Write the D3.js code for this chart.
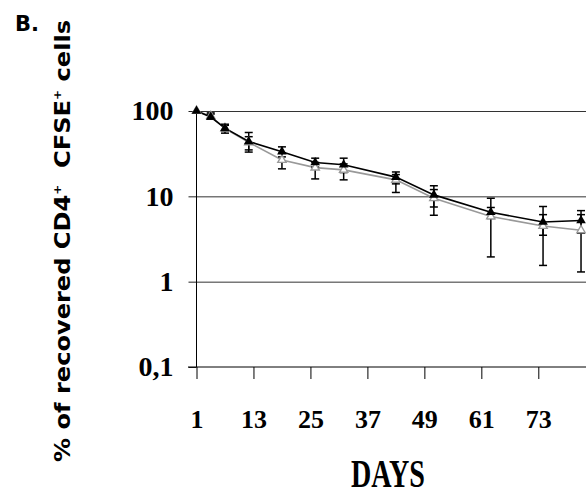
<!DOCTYPE html>
<html>
  <head>
    <script src="https://d3js.org/d3.v7.min.js"></script>
    <style>
      body { margin: 0; background: #fff; }
    </style>
  </head>
  <body>
    <svg width="586" height="497"></svg>
    <script>
      // values (log scale, % recovered cells)
      var days = [1, 4, 7, 12, 19, 26, 32, 43, 51, 63, 74, 82];
      var blackVals = [100, 85, 63, 44, 33.4, 24.9, 23.4, 16.8, 10.4, 6.5, 5.0, 5.2];
      var blackUp = [100, 92, 68, 56, 38, 28, 28, 19.3, 13.3, 9.5, 7.6, 6.8];
      var blackLo = [100, 80, 58, 35, 29, 22, 19, 14, 7.5, 5.5, 3.5, 3.7];
      var grayVals = [100, 87, 62, 43, 26.7, 21.7, 20.4, 15.6, 9.5, 5.8, 4.5, 4.0];
      var grayUp = [100, 95, 70, 50, 32, 25, 24, 18, 12, 7.4, 6.1, 6.1];
      var grayLo = [100, 80, 55, 33, 21, 16, 15.6, 11.1, 6.0, 1.95, 1.55, 1.3];
      var xTicks = [1, 13, 25, 37, 49, 61, 73];
      var yTicks = [0.1, 1, 10, 100];

      var svg = d3.select("svg");
      var serif = "'Liberation Serif', 'Times New Roman', serif";

      var x = d3.scaleLinear().domain([1, 73]).range([196.5, 538.3]);
      var y = d3.scaleLog().domain([0.1, 100]).range([367, 111]);

      // gridlines
      svg.append("g")
        .attr("transform", "translate(196.5,0)")
        .call(d3.axisLeft(y).tickValues([1, 10, 100]).tickSize(-400).tickFormat(""))
        .call(function (g) { g.select(".domain").remove(); })
        .selectAll("line").attr("stroke", "#333");

      // y axis ticks + labels
      var yAxis = svg.append("g")
        .attr("transform", "translate(196.5,0)")
        .call(d3.axisLeft(y).tickValues(yTicks).tickSize(8).tickPadding(15)
          .tickFormat(function (d) { return d === 0.1 ? "0,1" : String(d); }));
      yAxis.select(".domain").remove();
      yAxis.selectAll("line").attr("stroke", "#222");
      yAxis.selectAll("text")
        .attr("font-family", serif).attr("font-weight", "bold")
        .attr("font-size", 28).attr("fill", "#000");

      // x axis
      var xAxis = svg.append("g")
        .attr("transform", "translate(0,367)")
        .call(d3.axisBottom(x).tickValues(xTicks).tickSize(12).tickPadding(31));
      xAxis.select(".domain").remove();
      xAxis.selectAll("text")
        .attr("font-family", serif).attr("font-weight", "bold")
        .attr("font-size", 26).attr("fill", "#000");

      svg.append("line")
        .attr("x1", 188).attr("x2", 586)
        .attr("y1", y(0.1)).attr("y2", y(0.1))
        .attr("stroke", "#000");
      svg.append("line")
        .attr("x1", x(1)).attr("x2", x(1))
        .attr("y1", y(100) - 1).attr("y2", y(0.1))
        .attr("stroke", "#000");

      var line = d3.line()
        .x(function (d) { return x(d[0]); })
        .y(function (d) { return y(d[1]); });

      var grayData = days.map(function (d, i) { return [d, grayVals[i]]; });
      var blackData = days.map(function (d, i) { return [d, blackVals[i]]; });

      svg.append("path")
        .attr("fill", "none").attr("stroke", "#999").attr("stroke-width", 1.6)
        .attr("d", line(grayData));
      svg.append("path")
        .attr("fill", "none").attr("stroke", "#000").attr("stroke-width", 1.6)
        .attr("d", line(blackData));

      // error bars
      function errorBars(up, lo) {
        var g = svg.append("g").attr("stroke", "#000").attr("stroke-width", 1.5);
        days.forEach(function (d, i) {
          if (up[i] === lo[i]) return;
          var cx = x(d);
          g.append("line").attr("x1", cx).attr("x2", cx)
            .attr("y1", y(up[i])).attr("y2", y(lo[i]));
          [up[i], lo[i]].forEach(function (v) {
            g.append("line").attr("x1", cx - 4).attr("x2", cx + 4)
              .attr("y1", y(v)).attr("y2", y(v));
          });
        });
      }
      errorBars(grayUp, grayLo);
      errorBars(blackUp, blackLo);

      var tri = d3.symbol().type(d3.symbolTriangle);

      svg.append("g").selectAll("path")
        .data(grayData).enter().append("path")
        .attr("d", tri.size(30)())
        .attr("transform", function (d) { return "translate(" + x(d[0]) + "," + y(d[1]) + ")"; })
        .attr("fill", "#fff").attr("stroke", "#999").attr("stroke-width", 1.4);

      svg.append("g").selectAll("path")
        .data(blackData).enter().append("path")
        .attr("d", tri.size(40)())
        .attr("transform", function (d) { return "translate(" + x(d[0]) + "," + y(d[1]) + ")"; })
        .attr("fill", "#000");

      // titles
      svg.append("text")
        .attr("x", 388).attr("y", 487)
        .attr("text-anchor", "middle")
        .attr("font-family", serif).attr("font-weight", "bold")
        .attr("font-size", 40)
        .attr("textLength", 74).attr("lengthAdjust", "spacingAndGlyphs")
        .text("DAYS");

      svg.append("text")
        .attr("x", 15).attr("y", 31)
        .attr("font-family", "'DejaVu Sans', sans-serif").attr("font-weight", "bold")
        .attr("font-size", 21)
        .text("B.");

      var yt = svg.append("text")
        .attr("transform", "translate(70,241) rotate(-90)")
        .attr("text-anchor", "middle")
        .attr("font-family", "'Comic Sans MS', 'DejaVu Sans', sans-serif")
        .attr("font-weight", "bold")
        .attr("font-size", 22)
        .attr("textLength", 442).attr("lengthAdjust", "spacingAndGlyphs");
      yt.append("tspan").text("% of recovered CD4");
      yt.append("tspan").attr("dy", -9).attr("font-size", 11).text("+");
      yt.append("tspan").attr("dy", 9).text("\u00a0\u00a0CFSE");
      yt.append("tspan").attr("dy", -9).attr("font-size", 11).text("+");
      yt.append("tspan").attr("dy", 9).text("\u00a0cells");
    </script>
  </body>
</html>
